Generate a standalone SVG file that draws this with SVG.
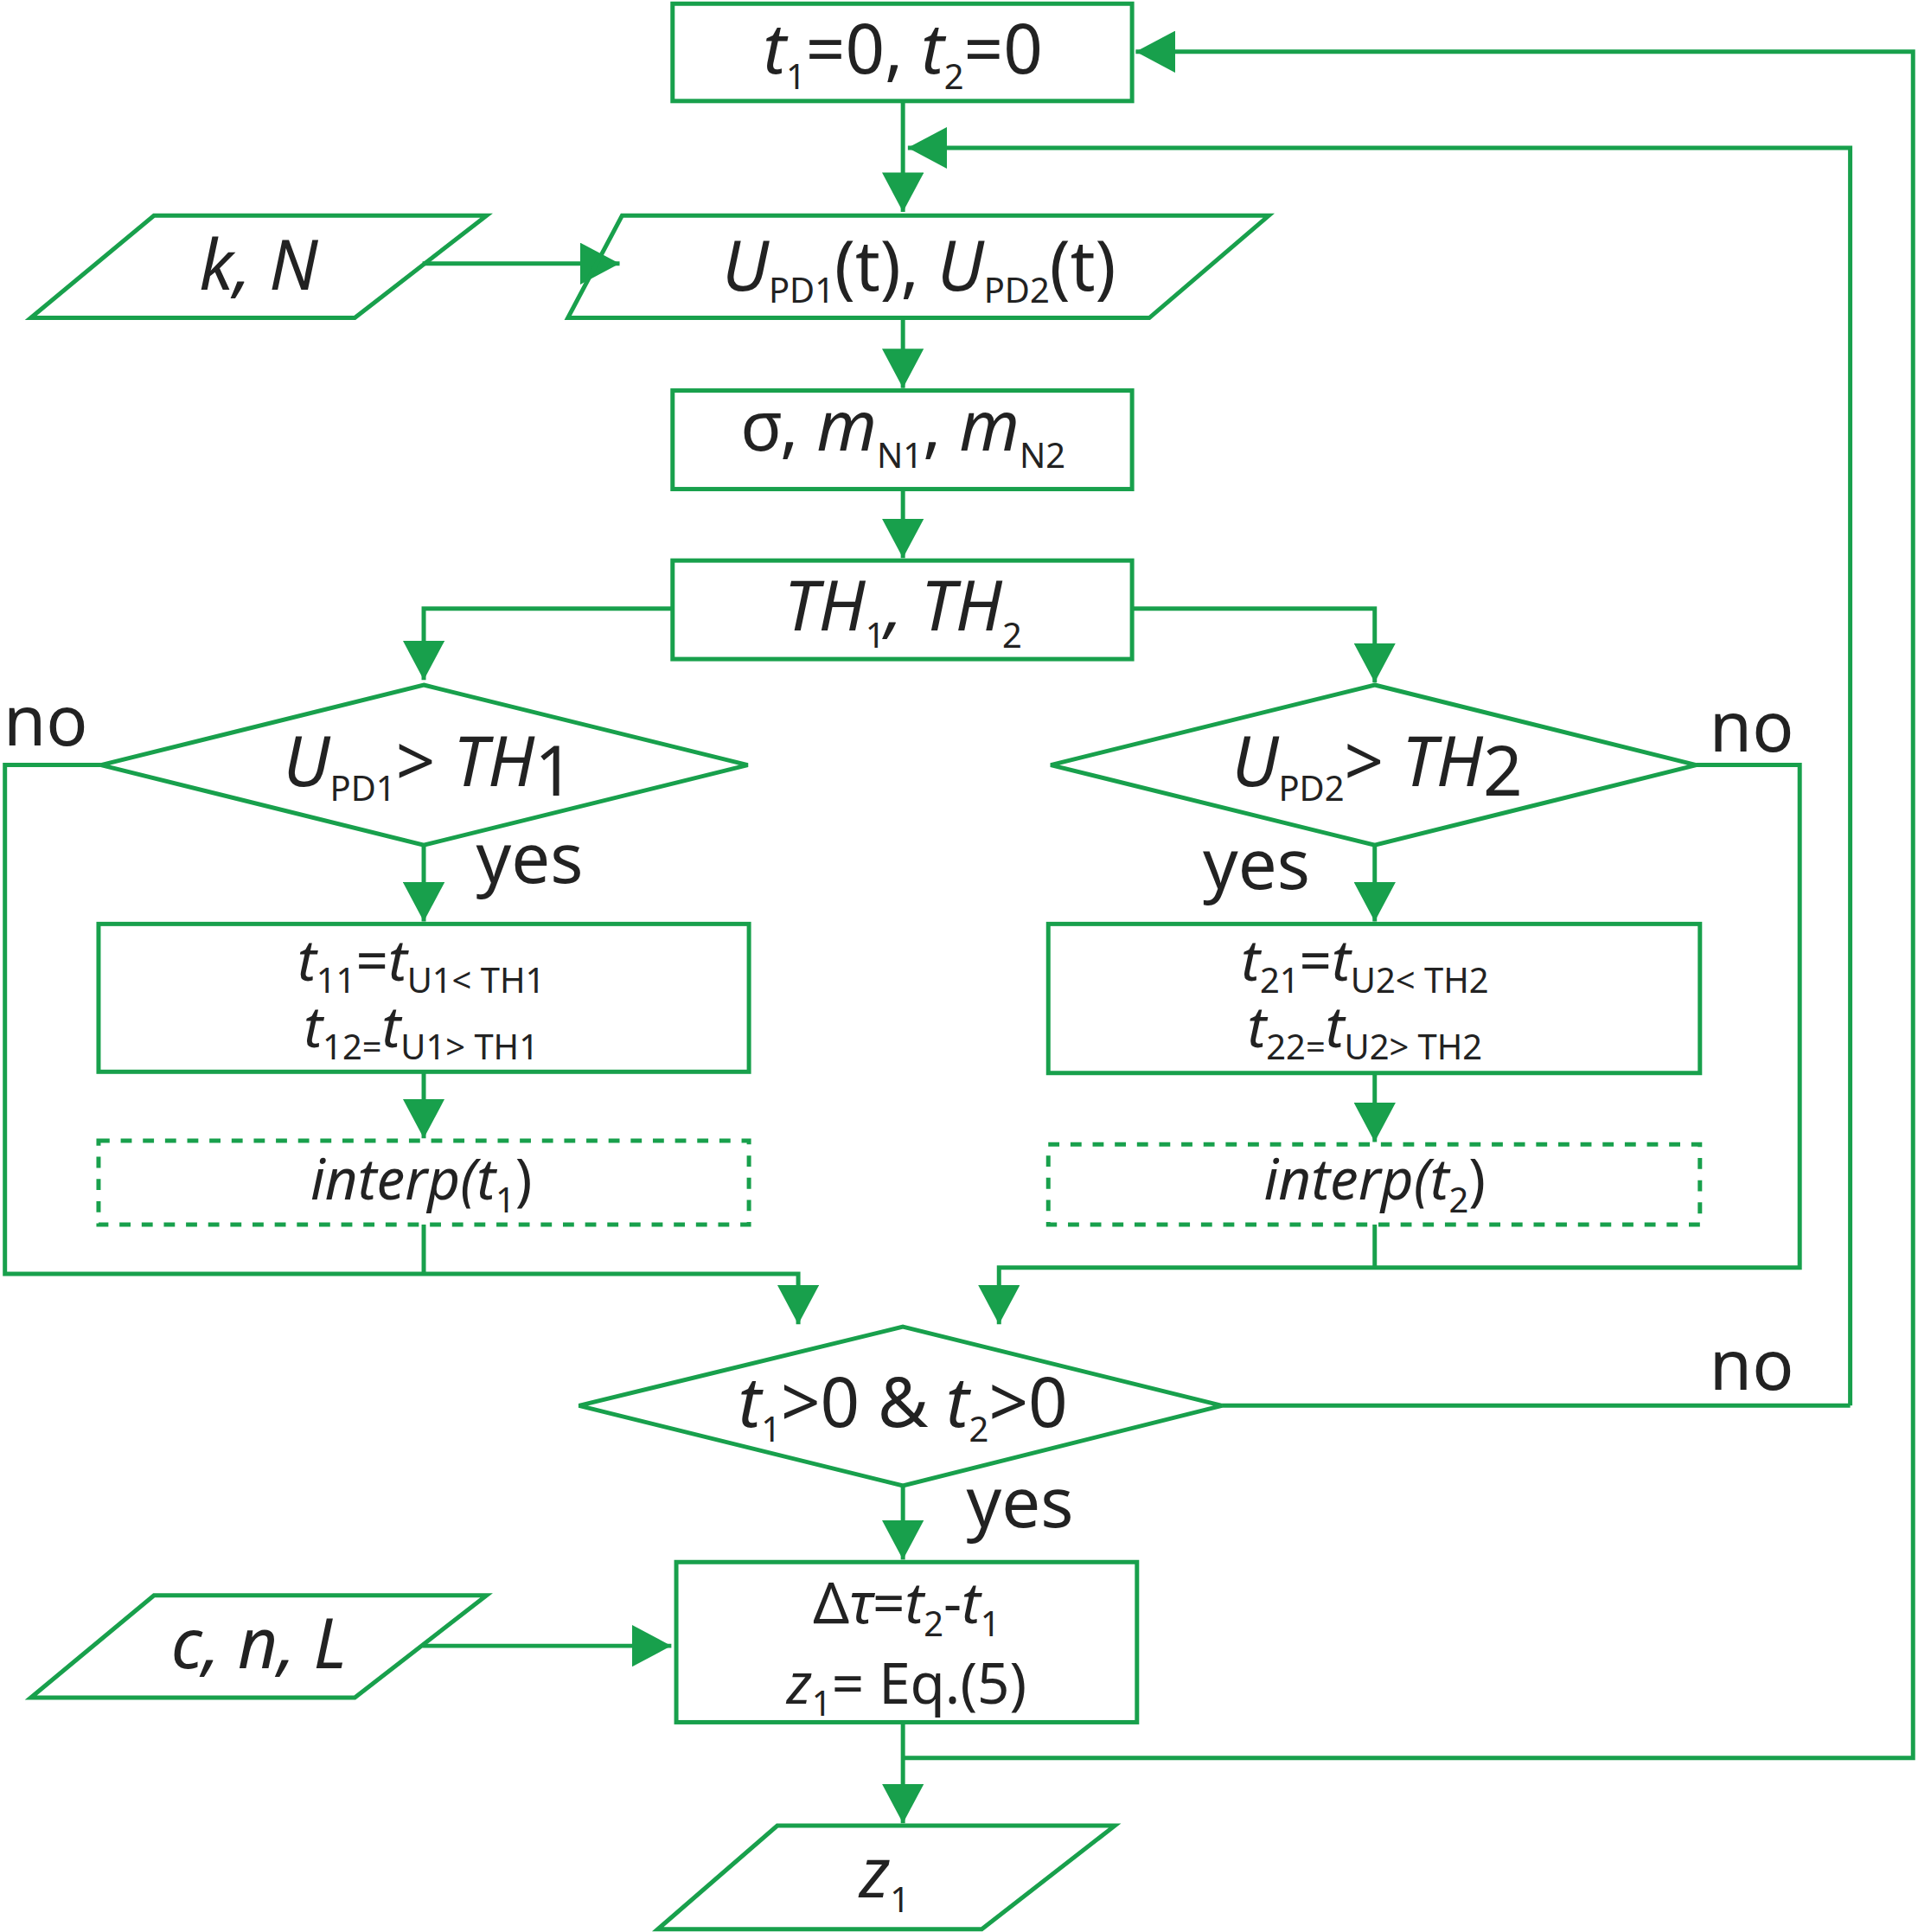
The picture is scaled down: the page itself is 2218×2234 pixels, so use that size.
<svg xmlns="http://www.w3.org/2000/svg" width="2218" height="2234" viewBox="0 0 2218 2234">
<defs>
<style>
.s{fill:none;stroke:#18a04c;stroke-width:3.5}
.d{fill:none;stroke:#18a04c;stroke-width:3.5;stroke-dasharray:9 9}
.l{fill:none;stroke:#18a04c;stroke-width:3.5}
text{font-family:"Noto Sans","DejaVu Sans",sans-serif;fill:#222;text-anchor:middle}
.b{font-size:56px}
.m{font-size:46px}
.sub{font-size:28px}
.i{font-style:italic}
</style>
<marker id="a" viewBox="0 0 10 10" refX="10" refY="5" markerWidth="32" markerHeight="34" markerUnits="userSpaceOnUse" orient="auto" preserveAspectRatio="none"><path d="M0,0L10,5L0,10z" fill="#18a04c"/></marker>
</defs>
<rect width="2218" height="2234" fill="#fff"/>
<g transform="scale(1.4245)">
<g id="connectors">
<path class="l" d="M733,82V172" marker-end="url(#a)"/>
<path class="l" d="M1502,1141H1502V120H737" marker-end="url(#a)"/>
<path class="l" d="M733,1427H1553V42H922" marker-end="url(#a)"/>
<path class="l" d="M343,214H503" marker-end="url(#a)"/>
<path class="l" d="M733,258V315" marker-end="url(#a)"/>
<path class="l" d="M733,397V453" marker-end="url(#a)"/>
<path class="l" d="M546,494H344V552" marker-end="url(#a)"/>
<path class="l" d="M919,494H1116V554" marker-end="url(#a)"/>
<path class="l" d="M82,621H4V1034H648V1075" marker-end="url(#a)"/>
<path class="l" d="M344,686V748" marker-end="url(#a)"/>
<path class="l" d="M344,870V924" marker-end="url(#a)"/>
<path class="l" d="M344,994V1034"/>
<path class="l" d="M1377,621H1461V1029H811V1075" marker-end="url(#a)"/>
<path class="l" d="M1116,686V748" marker-end="url(#a)"/>
<path class="l" d="M1116,871V927" marker-end="url(#a)"/>
<path class="l" d="M1116,994V1029"/>
<path class="l" d="M992,1141H1502"/>
<path class="l" d="M733,1206V1266" marker-end="url(#a)"/>
<path class="l" d="M343,1336H545" marker-end="url(#a)"/>
<path class="l" d="M733,1398V1480" marker-end="url(#a)"/>
</g>
<g id="n1"><rect class="s" x="546" y="3" width="373" height="79"/>
<text class="b" x="733" y="60"><tspan class="i">t</tspan><tspan class="sub" dy="12">1</tspan><tspan dy="-12">=0, </tspan><tspan class="i">t</tspan><tspan class="sub" dy="12">2</tspan><tspan dy="-12">=0</tspan></text></g>
<g id="n2"><polygon class="s" points="505,175 1030,175 933,258 461,258"/>
<text class="b" x="746" y="236"><tspan class="i">U</tspan><tspan class="sub" dy="10">PD1</tspan><tspan dy="-10">(t), </tspan><tspan class="i">U</tspan><tspan class="sub" dy="10">PD2</tspan><tspan dy="-10">(t)</tspan></text></g>
<g id="kN"><polygon class="s" points="125,175 395,175 288,258 25,258"/>
<text class="b i" x="210" y="235">k, N</text></g>
<g id="n3"><rect class="s" x="546" y="317" width="373" height="80"/>
<text class="b" x="733" y="366">σ, <tspan class="i">m</tspan><tspan class="sub" dy="14">N1</tspan><tspan dy="-14">, </tspan><tspan class="i">m</tspan><tspan class="sub" dy="14">N2</tspan></text></g>
<g id="n4"><rect class="s" x="546" y="455" width="373" height="80"/>
<text class="b i" x="733" y="512">TH<tspan class="sub" dy="14" font-style="normal">1</tspan><tspan dy="-14">, TH</tspan><tspan class="sub" dy="14" font-style="normal">2</tspan></text></g>
<g id="d1"><polygon class="s" points="344,556 607,621 344,686 82,621"/>
<text class="b" x="348" y="638"><tspan class="i">U</tspan><tspan class="sub" dy="12">PD1</tspan><tspan dy="-12">&gt; </tspan><tspan class="i">TH</tspan><tspan dy="8">1</tspan></text>
<text class="b" x="37" y="605">no</text><text class="b" x="430" y="717">yes</text></g>
<g id="d2"><polygon class="s" points="1116,556 1377,621 1116,686 853,621"/>
<text class="b" x="1118" y="638"><tspan class="i">U</tspan><tspan class="sub" dy="12">PD2</tspan><tspan dy="-12">&gt; </tspan><tspan class="i">TH</tspan><tspan dy="8">2</tspan></text>
<text class="b" x="1422" y="610">no</text><text class="b" x="1020" y="722">yes</text></g>
<g id="b1"><rect class="s" x="80" y="750" width="528" height="120"/>
<text class="m" x="342" y="796"><tspan class="i">t</tspan><tspan class="sub" dy="10">11</tspan><tspan dy="-10">=</tspan><tspan class="i">t</tspan><tspan class="sub" dy="10">U1&lt; TH1</tspan></text>
<text class="m" x="342" y="850"><tspan class="i">t</tspan><tspan class="sub" dy="10">12=</tspan><tspan dy="-10" class="i">t</tspan><tspan class="sub" dy="10">U1&gt; TH1</tspan></text></g>
<g id="b2"><rect class="s" x="851" y="750" width="529" height="121"/>
<text class="m" x="1108" y="796"><tspan class="i">t</tspan><tspan class="sub" dy="10">21</tspan><tspan dy="-10">=</tspan><tspan class="i">t</tspan><tspan class="sub" dy="10">U2&lt; TH2</tspan></text>
<text class="m" x="1108" y="850"><tspan class="i">t</tspan><tspan class="sub" dy="10">22=</tspan><tspan dy="-10" class="i">t</tspan><tspan class="sub" dy="10">U2&gt; TH2</tspan></text></g>
<g id="i1"><rect class="d" x="80" y="926" width="528" height="68"/>
<text class="m" x="342" y="974"><tspan class="i">interp(t</tspan><tspan class="sub" dy="10">1</tspan><tspan dy="-10">)</tspan></text></g>
<g id="i2"><rect class="d" x="851" y="929" width="529" height="65"/>
<text class="m" x="1116" y="974"><tspan class="i">interp(t</tspan><tspan class="sub" dy="10">2</tspan><tspan dy="-10">)</tspan></text></g>
<g id="d3"><polygon class="s" points="733,1077 992,1141 733,1206 470,1141"/>
<text class="b" x="733" y="1158"><tspan class="i">t</tspan><tspan class="sub" dy="12">1</tspan><tspan dy="-12">&gt;0 &amp; </tspan><tspan class="i">t</tspan><tspan class="sub" dy="12">2</tspan><tspan dy="-12">&gt;0</tspan></text>
<text class="b" x="1422" y="1128">no</text><text class="b" x="828" y="1240">yes</text></g>
<g id="b3"><rect class="s" x="549" y="1268" width="374" height="130"/>
<text class="m" x="736" y="1318">Δ<tspan class="i">τ</tspan>=<tspan class="i">t</tspan><tspan class="sub" dy="10">2</tspan><tspan dy="-10">-</tspan><tspan class="i">t</tspan><tspan class="sub" dy="10">1</tspan></text>
<text class="m" x="736" y="1383"><tspan class="i">z</tspan><tspan class="sub" dy="10">1</tspan><tspan dy="-10">= Eq.(5)</tspan></text></g>
<g id="cnL"><polygon class="s" points="125,1295 395,1295 288,1378 25,1378"/>
<text class="b i" x="210" y="1354">c, n, L</text></g>
<g id="z1"><polygon class="s" points="631,1482 905,1482 797,1566 534,1566"/>
<text class="b" x="718" y="1540"><tspan class="i">z</tspan><tspan class="sub" dy="12">1</tspan></text></g>
</g>
</svg>
